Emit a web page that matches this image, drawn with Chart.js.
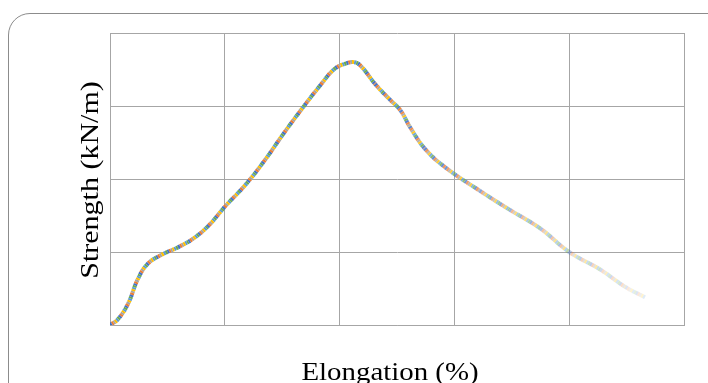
<!DOCTYPE html>
<html>
<head>
<meta charset="utf-8">
<script src="https://cdn.jsdelivr.net/npm/chart.js@4/dist/chart.umd.min.js"></script>
<style>
  html, body { margin: 0; padding: 0; background: #fff; overflow: hidden; }
  #frame {
    position: absolute; left: 8px; top: 13px; width: 740px; height: 420px;
    border: 1px solid #8c8c8c; border-radius: 22px;
  }
  #wrap { position: absolute; left: 0; top: 0; width: 708px; height: 383px; }
</style>
</head>
<body>
<div id="frame"></div>
<div id="wrap"><canvas id="chart" width="708" height="383"></canvas></div>
<script>
// elongation (%) / strength (kN/m)
var elongation = [0, 0.7, 1.6, 2.4, 3.3, 4.6, 6.0, 7.4, 8.7, 10, 11.8, 13.5, 15.2, 17, 18.3, 19.5, 20.5, 21.3, 21.9, 23.1, 24.3, 25.3, 26.1, 27.4, 29.2, 32.2, 34.8, 37.5, 40, 42.7, 44.9, 46.6];
var strength   = [0, 0.4, 1.5, 3.1, 4.2, 4.85, 5.35, 6.0, 6.9, 8.1, 9.6, 11.3, 13.2, 15.1, 16.4, 17.5, 17.9, 18.0, 17.7, 16.5, 15.5, 14.7, 13.6, 12.1, 10.8, 9.2, 7.9, 6.6, 5.0, 3.8, 2.6, 1.9];

var xTicks = [0, 10, 20, 30, 40, 50];
var yTicks = [0, 5, 10, 15, 20];

var xTitle = 'Elongation (%)';
var yTitle = 'Strength (kN/m)';

var colors = ['68,114,196', '237,125,49', '165,165,165', '255,192,0', '91,155,213', '112,173,71'];

var pts = elongation.map(function (x, i) { return { x: x, y: strength[i] }; });

function fade(ctx, rgb) {
  var x = elongation[ctx.p0DataIndex];
  var a = 1;
  if (x > 22) a = Math.max(0.15, 1 - (x - 22) / 24 * 0.85);
  return 'rgba(' + rgb + ',' + a + ')';
}

var datasets = colors.map(function (c, i) {
  return {
    data: pts,
    showLine: true,
    borderColor: 'rgb(' + c + ')',
    borderWidth: 4,
    borderDash: [2, 10],
    borderDashOffset: -2 * i,
    borderCapStyle: 'butt',
    pointRadius: 0,
    tension: 0.4,
    segment: { borderColor: function (ctx) { return fade(ctx, c); } }
  };
});

// axis titles, painted a little stretched like the original
var titles = {
  id: 'titles',
  afterDraw: function (chart) {
    var ctx = chart.ctx, a = chart.chartArea;
    ctx.save();
    ctx.fillStyle = '#000';
    ctx.textAlign = 'center';
    ctx.font = '26px "Liberation Serif"';
    ctx.textBaseline = 'alphabetic';
    ctx.save();
    ctx.translate(390, 380);
    ctx.scale(1.11, 1);
    ctx.fillText(xTitle, 0, 0);
    ctx.restore();

    ctx.font = '25px "Liberation Serif"';
    ctx.textBaseline = 'middle';
    ctx.translate(91, (a.top + a.bottom) / 2 + 1);
    ctx.rotate(-Math.PI / 2);
    ctx.scale(1.2, 1);
    ctx.fillText(yTitle, 0, 0);
    ctx.restore();
  }
};

new Chart(document.getElementById('chart'), {
  type: 'scatter',
  data: { datasets: datasets },
  options: {
    responsive: false,
    animation: false,
    layout: { padding: { left: 110, right: 24, top: 33, bottom: 58 } },
    plugins: { legend: { display: false }, tooltip: { enabled: false } },
    scales: {
      x: {
        min: 0, max: 50,
        afterBuildTicks: function (ax) { ax.ticks = xTicks.map(function (v) { return { value: v }; }); },
        ticks: { display: false },
        grid: { color: '#a6a6a6', lineWidth: 1, drawTicks: false },
        border: { color: '#a6a6a6' }
      },
      y: {
        min: 0, max: 20,
        afterBuildTicks: function (ax) { ax.ticks = yTicks.map(function (v) { return { value: v }; }); },
        ticks: { display: false },
        grid: { color: '#a6a6a6', lineWidth: 1, drawTicks: false },
        border: { color: '#a6a6a6' }
      }
    }
  },
  plugins: [titles]
});
</script>
</body>
</html>
